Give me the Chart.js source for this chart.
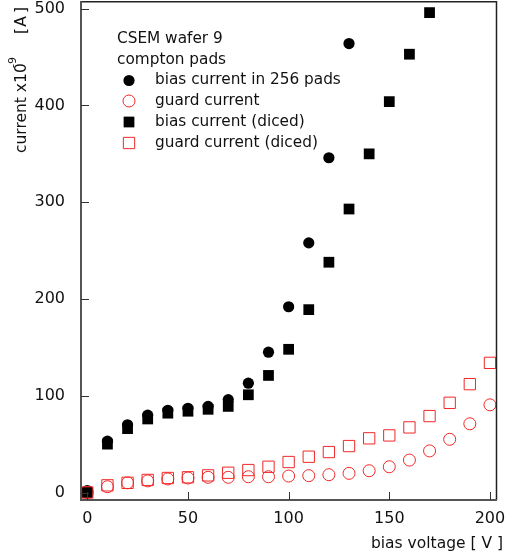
<!DOCTYPE html>
<html><head><meta charset="utf-8">
<script src="https://cdn.jsdelivr.net/npm/chart.js@4.4.1/dist/chart.umd.min.js"></script>
<style>html,body{margin:0;padding:0;background:#fff;}#wrap{width:511px;height:557px;}</style>
</head><body><div id="wrap"><canvas id="c" width="511" height="557"></canvas></div>
<script>
// bias voltage [V]
const voltage = [0,10,20,30,40,50,60,70,80,90,100,110,120,130,140,150,160,170,180,190,200];
// current x1e-9 A
const biasPads    = [2,53,70,80,85,87,89,96,113,145,192,258,346,464];
const guardCurr   = [0,6,10,12,14,15,15.7,15.7,16.3,16.3,17,17.4,18.4,19.8,22.5,26.6,33.5,43,55,71,90.6];
const biasDiced   = [0,50,66,76,82,84,86,89,101,121,148,189,238,293,350,404,453,496];
const guardDiced  = [0,7.4,10,13,15,15.7,17.7,20.4,23.2,26.6,31.5,37,41.8,48,56,59,67.3,79,92.7,112,134];
const xTicks = [0,50,100,150,200];
const yTicks = [0,100,200,300,400,500];
const legendTitle = ['CSEM wafer 9','compton pads'];
const seriesNames = ['bias current in 256 pads','guard current','bias current (diced)','guard current (diced)'];

const RED = '#f02828';
const FONT = '"DejaVu Sans", sans-serif';
function pts(vals){ return vals.map((v,i)=>({x:voltage[i], y:v})); }

const datasets = [
  {label:seriesNames[0], data:pts(biasPads), pointStyle:'circle', pointRadius:5.6, backgroundColor:'#000', borderColor:'#000', borderWidth:0, order:4},
  {label:seriesNames[1], data:pts(guardCurr), pointStyle:'circle', pointRadius:6, backgroundColor:'rgba(0,0,0,0)', borderColor:RED, borderWidth:1, order:3},
  {label:seriesNames[2], data:pts(biasDiced), pointStyle:'rect', pointRadius:7.6, backgroundColor:'#000', borderColor:'#000', borderWidth:0, order:2},
  {label:seriesNames[3], data:pts(guardDiced), pointStyle:'rect', pointRadius:8, backgroundColor:'rgba(0,0,0,0)', borderColor:RED, borderWidth:1, order:1}
];

const decor = {
  id:'decor',
  afterDraw(chart){
    const ctx = chart.ctx, a = chart.chartArea;
    const xs = chart.scales.x, ys = chart.scales.y;
    ctx.save();
    // frame
    ctx.strokeStyle = '#222'; ctx.lineWidth = 1.5;
    ctx.beginPath(); ctx.moveTo(a.left, a.top+0.75); ctx.lineTo(a.right-0.5, a.top+0.75); ctx.lineTo(a.right-0.5, a.bottom); ctx.stroke();
    ctx.strokeStyle = '#555'; ctx.lineWidth = 2;
    ctx.beginPath(); ctx.moveTo(a.left, a.top); ctx.lineTo(a.left, a.bottom); ctx.lineTo(a.right, a.bottom); ctx.stroke();
    // inward ticks
    ctx.lineWidth = 1; ctx.strokeStyle = '#333';
    ctx.beginPath();
    xTicks.forEach(v=>{ const p = Math.round(xs.getPixelForValue(v))+0.5; ctx.moveTo(p, a.bottom); ctx.lineTo(p, a.bottom-8); });
    yTicks.forEach(v=>{ const p = Math.round(ys.getPixelForValue(v))+0.5; ctx.moveTo(a.left, p); ctx.lineTo(a.left+8, p); });
    ctx.stroke();
    // x title
    ctx.fillStyle = '#111'; ctx.font = '15.5px ' + FONT; ctx.textAlign = 'right'; ctx.textBaseline = 'middle';
    ctx.fillText('bias voltage [ V ]', 503, 544);
    // y title (rotated)
    ctx.save();
    ctx.translate(22, 153); ctx.rotate(-Math.PI/2);
    ctx.textAlign = 'left'; ctx.textBaseline = 'middle';
    ctx.font = '15.5px ' + FONT;
    ctx.fillText('current x10', 0, 0);
    ctx.font = '11px ' + FONT; ctx.fillText('-9', 85, -9);
    ctx.font = '15.5px ' + FONT; ctx.textAlign = 'center';
    ctx.fillText('[', 122, 0);
    ctx.fillText('A', 131.5, 0);
    ctx.fillText(']', 143, 0);
    ctx.restore();
    // legend
    ctx.font = '15.3px ' + FONT; ctx.textAlign = 'left'; ctx.textBaseline = 'middle'; ctx.fillStyle = '#111';
    ctx.fillText(legendTitle[0], 117, 39);
    ctx.fillText(legendTitle[1], 117, 60);
    const rows = [80.5, 101, 122, 143];
    chart.data.datasets.forEach((ds,i)=>{
      ctx.fillStyle = ds.backgroundColor; ctx.strokeStyle = ds.borderColor;
      ctx.lineWidth = ds.borderWidth;
      Chart.helpers.drawPoint(ctx, {pointStyle:ds.pointStyle, radius:ds.pointRadius, rotation:0, borderWidth:ds.borderWidth}, 129, rows[i]);
      ctx.fillStyle = '#111';
      ctx.fillText(ds.label, 155, rows[i]);
    });
    ctx.restore();
  }
};

new Chart(document.getElementById('c'), {
  type:'scatter',
  data:{datasets},
  options:{
    responsive:false, animation:false, devicePixelRatio:1,
    layout:{autoPadding:false, padding:{top:1, right:14, left:0, bottom:0}},
    plugins:{legend:{display:false}, tooltip:{enabled:false}},
    scales:{
      x:{type:'linear', min:-3.13, max:203.5,
         afterBuildTicks(s){ s.ticks = xTicks.map(v=>({value:v})); },
         afterFit(s){ s.height = 57; s.paddingLeft = 0; s.paddingRight = 0; },
         grid:{display:false}, border:{display:false},
         ticks:{font:{family:FONT, size:16}, color:'#111', padding:1, maxRotation:0}},
      y:{type:'linear', min:-7.75, max:508,
         afterBuildTicks(s){ s.ticks = yTicks.map(v=>({value:v})); },
         afterFit(s){ s.width = 81; s.paddingTop = 0; s.paddingBottom = 0; },
         grid:{display:false}, border:{display:false},
         ticks:{font:{family:FONT, size:16}, color:'#111', padding:8}}
    }
  },
  plugins:[decor]
});
</script></body></html>
